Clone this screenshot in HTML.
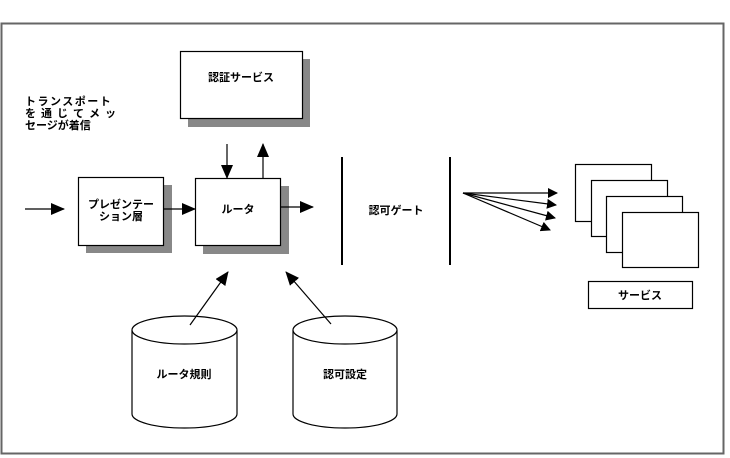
<!DOCTYPE html>
<html><head><meta charset="utf-8"><style>
body{margin:0;background:#fff;}
svg{display:block}
text{font-family:"Liberation Sans","Noto Sans CJK JP",sans-serif;font-size:11px;fill:#000;font-weight:bold;}
</style></head><body>
<svg width="730" height="458" viewBox="0 0 730 458">
<defs><marker id="a" markerWidth="10" markerHeight="10" refX="9" refY="5" orient="auto" markerUnits="userSpaceOnUse"><path d="M0,0 L10,5 L0,10z" fill="#000"/></marker>
<marker id="b" markerWidth="14" markerHeight="12" refX="13" refY="6" orient="auto" markerUnits="userSpaceOnUse"><path d="M0,0 L14,6 L0,12z" fill="#000"/></marker></defs>
<rect x="1.5" y="23.5" width="722" height="430" fill="#fff" stroke="#666" stroke-width="2"/>
<g stroke="#000" stroke-width="1.2">
<rect x="188" y="59" width="122" height="68" fill="#888" stroke="none"/>
<rect x="180.5" y="51.5" width="122" height="67" fill="#fff"/>
<rect x="86" y="185" width="86" height="68" fill="#888" stroke="none"/>
<rect x="78.5" y="177.5" width="85" height="68" fill="#fff"/>
<rect x="203" y="186" width="86" height="68" fill="#888" stroke="none"/>
<rect x="195.5" y="178.5" width="85" height="67" fill="#fff"/>
<line x1="25" y1="209" x2="64" y2="209" marker-end="url(#b)"/>
<line x1="163" y1="209" x2="195" y2="209" marker-end="url(#b)"/>
<line x1="280" y1="207" x2="313" y2="207" marker-end="url(#b)"/>
<line x1="227" y1="144" x2="227" y2="178" marker-end="url(#b)"/>
<line x1="263" y1="178" x2="263" y2="144" marker-end="url(#b)"/>
<line x1="342" y1="157" x2="342" y2="265" stroke-width="2"/>
<line x1="450" y1="157" x2="450" y2="265" stroke-width="2"/>
<line x1="463" y1="193" x2="557" y2="193" marker-end="url(#a)"/>
<line x1="463" y1="193" x2="556" y2="205" marker-end="url(#a)"/>
<line x1="463" y1="193" x2="555" y2="218" marker-end="url(#a)"/>
<line x1="463" y1="193" x2="550" y2="230" marker-end="url(#a)"/>
<rect x="575.5" y="164.5" width="76" height="57" fill="#fff"/>
<rect x="591.5" y="180.5" width="76" height="56" fill="#fff"/>
<rect x="606.5" y="196.5" width="76" height="56" fill="#fff"/>
<rect x="622.5" y="212.5" width="76" height="55" fill="#fff"/>
<rect x="588.5" y="281.5" width="104" height="27" fill="#fff"/>
<path d="M132,330 L132,414 A52.5,14 0 0 0 237,414 L237,330" fill="#fff"/>
<ellipse cx="184.5" cy="330" rx="52.5" ry="14" fill="#fff"/>
<path d="M293,330 L293,414 A52,14 0 0 0 397,414 L397,330" fill="#fff"/>
<ellipse cx="345" cy="330" rx="52" ry="14" fill="#fff"/>
<line x1="190" y1="325" x2="228" y2="272" marker-end="url(#b)"/>
<line x1="331" y1="324" x2="286" y2="272" marker-end="url(#b)"/>
</g>
<text x="241" y="81" text-anchor="middle">認証サービス</text>
<text x="25" y="105" letter-spacing="1.5">トランスポート</text>
<text x="25" y="117" letter-spacing="5">を通じてメッ</text>
<text x="25" y="129">セージが着信</text>
<text x="121" y="208" text-anchor="middle">プレゼンテー</text>
<text x="121" y="220" text-anchor="middle">ション層</text>
<text x="238" y="213" text-anchor="middle">ルータ</text>
<text x="396" y="214" text-anchor="middle">認可ゲート</text>
<text x="640" y="299" text-anchor="middle">サービス</text>
<text x="184" y="378" text-anchor="middle">ルータ規則</text>
<text x="345" y="378" text-anchor="middle">認可設定</text>
</svg>
</body></html>
